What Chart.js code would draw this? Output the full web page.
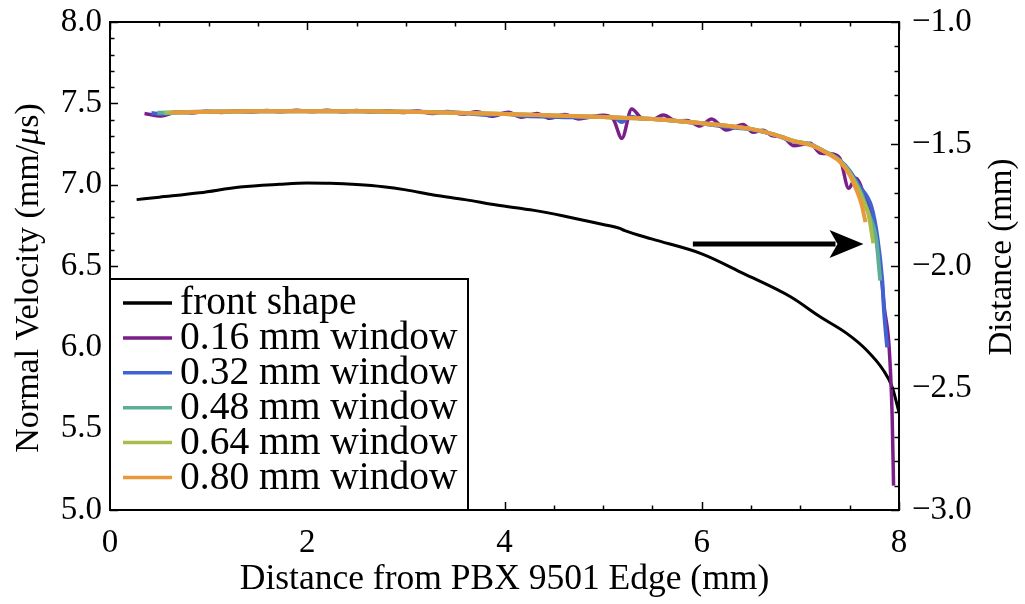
<!DOCTYPE html>
<html>
<head>
<meta charset="utf-8">
<script src="https://cdn.jsdelivr.net/npm/chart.js@4.4.0/dist/chart.umd.min.js"></script>
<style>
  html, body { margin: 0; padding: 0; background: #fff; }
</style>
</head>
<body>
<canvas id="chart" width="1025" height="604"></canvas>
<script>
// Tick values
const xTicks = [0, 2, 4, 6, 8];
const velTicks = [5.0, 5.5, 6.0, 6.5, 7.0, 7.5, 8.0];
const distTicks = [-3.0, -2.5, -2.0, -1.5, -1.0];

const seriesLabels = ['front shape', '0.16 mm window', '0.32 mm window', '0.48 mm window', '0.64 mm window', '0.80 mm window'];
const seriesColors = ['#000000', '#7a1f88', '#4163d2', '#5cae97', '#a8bd4c', '#e7993b'];

// Front shape (right axis, mm)
const frontX = [0.27, 0.5, 0.91, 1.32, 1.72, 2.0, 2.23, 2.5, 2.77, 3.0, 3.28, 3.6, 3.92, 4.3, 4.6, 5.0, 5.17, 5.22, 5.5, 6.0, 6.42, 6.9, 7.2, 7.47, 7.67, 7.84, 7.93, 8.0];
const frontY = [-1.728, -1.718, -1.700, -1.676, -1.665, -1.660, -1.661, -1.666, -1.675, -1.688, -1.709, -1.728, -1.750, -1.772, -1.795, -1.830, -1.846, -1.855, -1.890, -1.950, -2.030, -2.126, -2.208, -2.276, -2.344, -2.426, -2.495, -2.600];

// 0.16 mm window (velocity, mm/us)
const w16X = [0.35, 0.52, 0.67, 0.83, 0.98, 1.13, 1.28, 1.44, 1.59, 1.74, 1.89, 2.05, 2.20, 2.35, 2.50, 2.66, 2.81, 2.96, 3.11, 3.27, 3.42, 3.57, 3.72, 3.87, 4.04, 4.17, 4.33, 4.46, 4.61, 4.75, 4.90, 5.00, 5.10, 5.19, 5.29, 5.40, 5.50, 5.61, 5.75, 5.85, 5.98, 6.10, 6.25, 6.42, 6.52, 6.62, 6.72, 6.82, 6.93, 7.10, 7.20, 7.30, 7.40, 7.49, 7.56, 7.64, 7.71, 7.77, 7.82, 7.85, 7.90, 7.93, 7.945];
const w16Y = [7.438, 7.422, 7.446, 7.440, 7.452, 7.444, 7.454, 7.447, 7.456, 7.448, 7.457, 7.449, 7.457, 7.448, 7.456, 7.446, 7.455, 7.443, 7.453, 7.438, 7.450, 7.434, 7.448, 7.420, 7.445, 7.414, 7.438, 7.408, 7.432, 7.404, 7.420, 7.426, 7.405, 7.285, 7.465, 7.405, 7.402, 7.428, 7.390, 7.395, 7.360, 7.404, 7.336, 7.370, 7.322, 7.335, 7.300, 7.295, 7.240, 7.254, 7.195, 7.190, 7.162, 6.978, 7.040, 6.950, 6.820, 6.660, 6.450, 6.250, 6.000, 5.590, 5.150];

// 0.32 mm window
const w32X = [0.42, 0.52, 0.7, 1.0, 1.5, 2.0, 2.5, 3.0, 3.5, 3.87, 4.0, 4.17, 4.46, 4.75, 5.0, 5.12, 5.19, 5.27, 5.4, 5.5, 6.0, 6.25, 6.5, 6.75, 6.93, 7.1, 7.25, 7.4, 7.5, 7.6, 7.72, 7.78, 7.83, 7.85, 7.88];
const w32Y = [7.441, 7.434, 7.445, 7.449, 7.452, 7.453, 7.452, 7.449, 7.443, 7.428, 7.437, 7.423, 7.418, 7.414, 7.418, 7.410, 7.385, 7.418, 7.406, 7.404, 7.376, 7.356, 7.340, 7.304, 7.265, 7.248, 7.203, 7.150, 7.085, 6.990, 6.865, 6.680, 6.410, 6.210, 6.000];

// 0.48 mm window
const w48X = [0.48, 1.0, 1.5, 2.0, 2.5, 3.0, 3.5, 4.0, 4.5, 5.0, 5.5, 6.0, 6.25, 6.5, 6.75, 6.93, 7.1, 7.25, 7.4, 7.5, 7.6, 7.7, 7.77, 7.81];
const w48Y = [7.442, 7.448, 7.451, 7.452, 7.451, 7.448, 7.442, 7.434, 7.425, 7.416, 7.404, 7.378, 7.362, 7.342, 7.306, 7.268, 7.246, 7.203, 7.148, 7.075, 6.970, 6.810, 6.660, 6.410];

// 0.64 mm window
const w64X = [0.55, 1.0, 1.5, 2.0, 2.5, 3.0, 3.5, 4.0, 4.5, 5.0, 5.5, 6.0, 6.25, 6.5, 6.75, 6.93, 7.1, 7.25, 7.4, 7.5, 7.58, 7.65, 7.69, 7.74];
const w64Y = [7.442, 7.448, 7.451, 7.452, 7.451, 7.448, 7.442, 7.434, 7.425, 7.416, 7.404, 7.378, 7.363, 7.343, 7.306, 7.270, 7.246, 7.203, 7.146, 7.070, 6.980, 6.880, 6.820, 6.640];

// 0.80 mm window
const w80X = [0.62, 1.0, 1.5, 2.0, 2.5, 3.0, 3.5, 4.0, 4.5, 5.0, 5.5, 6.0, 6.25, 6.5, 6.75, 6.93, 7.1, 7.25, 7.4, 7.5, 7.56, 7.62, 7.66];
const w80Y = [7.443, 7.448, 7.451, 7.452, 7.451, 7.448, 7.442, 7.434, 7.425, 7.416, 7.404, 7.378, 7.363, 7.343, 7.305, 7.268, 7.244, 7.200, 7.141, 7.060, 6.980, 6.880, 6.770];

// Arrow annotation (data units on velocity axis)
const arrowFrom = [5.91, 6.636];
const arrowTo = [7.64, 6.636];

const FONT = '"Liberation Serif", "Times New Roman", serif';

function pts(xs, ys) {
    return xs.map((x, i) => ({ x: x, y: ys[i] }));
}

const seriesData = [
    { xs: frontX, ys: frontY, axis: 'y2', width: 3, order: 5 },
    { xs: w16X, ys: w16Y, axis: 'y', width: 3.5, order: 4 },
    { xs: w32X, ys: w32Y, axis: 'y', width: 4, order: 3 },
    { xs: w48X, ys: w48Y, axis: 'y', width: 4, order: 2 },
    { xs: w64X, ys: w64Y, axis: 'y', width: 4, order: 1 },
    { xs: w80X, ys: w80Y, axis: 'y', width: 4, order: 0 }
];

const datasets = seriesData.map((s, i) => ({
    label: seriesLabels[i],
    data: pts(s.xs, s.ys),
    yAxisID: s.axis,
    borderColor: seriesColors[i],
    borderWidth: s.width,
    pointRadius: 0,
    cubicInterpolationMode: 'monotone',
    fill: false,
    order: s.order
}));

// Frame, ticks, arrow, legend and axis titles
const framePlugin = {
    id: 'frame',
    afterDraw(chart) {
        const { ctx, chartArea: a, scales } = chart;
        const xs = scales.x, ys = scales.y, y2 = scales.y2;
        ctx.save();
        ctx.strokeStyle = '#000';
        ctx.lineWidth = 1.5;

        const tick = (x1, y1, x2, y2p) => {
            ctx.beginPath();
            ctx.moveTo(x1, y1);
            ctx.lineTo(x2, y2p);
            ctx.stroke();
        };

        // left axis ticks every 0.1
        for (let k = 0; k <= 30; k++) {
            const v = 5 + k * 0.1;
            const py = Math.round(ys.getPixelForValue(v)) + 0.5;
            const len = k % 5 === 0 ? 8 : 4.5;
            tick(a.left, py, a.left + len, py);
        }
        // right axis ticks every 0.1
        for (let k = 0; k <= 20; k++) {
            const v = -3 + k * 0.1;
            const py = Math.round(y2.getPixelForValue(v)) + 0.5;
            const len = k % 5 === 0 ? 8 : 4.5;
            tick(a.right, py, a.right - len, py);
        }
        // bottom and top ticks every 0.5
        for (let k = 0; k <= 16; k++) {
            const v = k * 0.5;
            const px = Math.round(xs.getPixelForValue(v)) + 0.5;
            const len = k % 4 === 0 ? 8 : 4.5;
            tick(px, a.bottom, px, a.bottom - len);
            tick(px, a.top, px, a.top + len);
        }

        // frame
        ctx.lineWidth = 2;
        ctx.strokeRect(a.left, a.top, a.right - a.left, a.bottom - a.top);

        // arrow
        const ax0 = xs.getPixelForValue(arrowFrom[0]);
        const ax1 = xs.getPixelForValue(arrowTo[0]);
        const ay = ys.getPixelForValue(arrowTo[1]);
        ctx.lineWidth = 5;
        ctx.beginPath();
        ctx.moveTo(ax0, ay);
        ctx.lineTo(ax1 - 28, ay);
        ctx.stroke();
        ctx.fillStyle = '#000';
        ctx.beginPath();
        ctx.moveTo(ax1, ay);
        ctx.lineTo(ax1 - 34, ay - 14);
        ctx.lineTo(ax1 - 26, ay);
        ctx.lineTo(ax1 - 34, ay + 14);
        ctx.closePath();
        ctx.fill();

        // legend
        const bx0 = a.left, by0 = 279, bx1 = 468, by1 = a.bottom;
        ctx.fillStyle = '#fff';
        ctx.fillRect(bx0, by0, bx1 - bx0, by1 - by0);
        ctx.lineWidth = 2;
        ctx.strokeStyle = '#000';
        ctx.strokeRect(bx0, by0, bx1 - bx0, by1 - by0);
        ctx.font = '39.5px ' + FONT;
        ctx.textBaseline = 'middle';
        ctx.textAlign = 'left';
        chart.data.datasets.forEach((ds, i) => {
            const ry = 303 + i * 34.9;
            ctx.strokeStyle = ds.borderColor;
            ctx.lineWidth = 3.5;
            ctx.beginPath();
            ctx.moveTo(123, ry);
            ctx.lineTo(172, ry);
            ctx.stroke();
            ctx.fillStyle = '#000';
            ctx.fillText(ds.label, 180, ry + 1);
        });

        // left axis title, with italic mu
        ctx.save();
        ctx.translate(29, 278);
        ctx.rotate(-Math.PI / 2);
        ctx.fillStyle = '#000';
        ctx.textAlign = 'left';
        const parts = [['Normal Velocity (mm/', ''], ['μ', 'italic '], ['s)', '']];
        let total = 0;
        parts.forEach(p => { ctx.font = p[1] + '34px ' + FONT; total += ctx.measureText(p[0]).width; });
        let tx = -total / 2;
        parts.forEach(p => {
            ctx.font = p[1] + '34px ' + FONT;
            ctx.fillText(p[0], tx, 0);
            tx += ctx.measureText(p[0]).width;
        });
        ctx.restore();

        // right axis title, reading bottom to top
        ctx.translate(1002, 257);
        ctx.rotate(-Math.PI / 2);
        ctx.font = '33px ' + FONT;
        ctx.textAlign = 'center';
        ctx.fillStyle = '#000';
        ctx.fillText('Distance (mm)', 0, 0);
        ctx.restore();
    }
};

const tickFont = { family: FONT, size: 33 };

function noPad(s) {
    s.paddingTop = 0;
    s.paddingBottom = 0;
    s.paddingLeft = 0;
    s.paddingRight = 0;
}

new Chart(document.getElementById('chart').getContext('2d'), {
    type: 'line',
    data: { datasets: datasets },
    options: {
        responsive: false,
        animation: false,
        devicePixelRatio: 1,
        layout: { padding: { top: 22, left: 0, right: 0, bottom: 0 } },
        plugins: { legend: { display: false }, tooltip: { enabled: false } },
        scales: {
            x: {
                type: 'linear',
                position: 'bottom',
                min: 0,
                max: 8,
                afterBuildTicks: s => { s.ticks = xTicks.map(v => ({ value: v })); },
                afterFit: s => { s.height = 94; noPad(s); },
                ticks: { font: tickFont, color: '#000', padding: 14, maxRotation: 0, callback: v => String(v) },
                grid: { display: false, drawTicks: false },
                border: { display: false },
                title: { display: true, text: 'Distance from PBX 9501 Edge (mm)', color: '#000', font: { family: FONT, size: 35.5 }, padding: { top: 0, bottom: 3 } }
            },
            y: {
                type: 'linear',
                position: 'left',
                min: 5,
                max: 8,
                afterBuildTicks: s => { s.ticks = velTicks.map(v => ({ value: v })); },
                afterFit: s => { s.width = 110; noPad(s); },
                ticks: { font: tickFont, color: '#000', padding: 8, callback: v => v.toFixed(1) },
                grid: { display: false, drawTicks: false },
                border: { display: false }
            },
            y2: {
                type: 'linear',
                position: 'right',
                min: -3,
                max: -1,
                afterBuildTicks: s => { s.ticks = distTicks.map(v => ({ value: v })); },
                afterFit: s => { s.width = 126; noPad(s); },
                ticks: { font: tickFont, color: '#000', padding: 13, callback: v => '\u2212' + Math.abs(v).toFixed(1) },
                grid: { display: false, drawTicks: false },
                border: { display: false }
            }
        }
    },
    plugins: [framePlugin]
});
</script>
</body>
</html>
